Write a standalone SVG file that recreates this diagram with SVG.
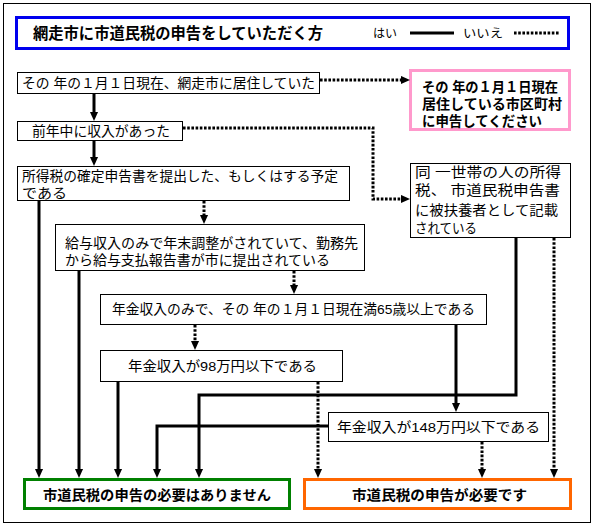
<svg xmlns="http://www.w3.org/2000/svg" width="595" height="527" viewBox="0 0 595 527">
<defs>
<style>
text{font-family:"Liberation Sans","Noto Sans CJK JP",sans-serif;fill:#000}
.t{font-size:13.5px}
.b{font-size:14px;font-weight:bold}
.box{fill:#fff;stroke:#000;stroke-width:1}
.yes{fill:none;stroke:#000;stroke-width:3}
.no{fill:none;stroke:#000;stroke-width:3;stroke-dasharray:2.6 1.6}
</style>
<marker id="ah" viewBox="0 0 10 10" markerWidth="9" markerHeight="9" markerUnits="userSpaceOnUse" refX="2" refY="5" orient="auto">
<path d="M0,0.5 L10,5 L0,9.5 z" fill="#000"/>
</marker>
</defs>
<rect x="0" y="0" width="595" height="527" fill="#fff"/>
<rect x="3.5" y="3.5" width="587" height="519" fill="none" stroke="#000" stroke-width="1"/>

<g id="title">
<rect x="16.5" y="17.5" width="552" height="31" fill="#fff" stroke="#0000ee" stroke-width="3"/>
<text x="33" y="39" style="font-size:15.5px;font-weight:bold" textLength="290" lengthAdjust="spacingAndGlyphs">網走市に市道民税の申告をしていただく方</text>
<text x="373" y="37.5" style="font-size:12px">はい</text>
<path class="yes" d="M410,33 H454"/>
<text x="463" y="37.5" style="font-size:12px" textLength="40" lengthAdjust="spacingAndGlyphs">いいえ</text>
<path class="no" d="M514,33 H560"/>
</g>

<g id="n1">
<rect class="box" x="17.5" y="72.5" width="302" height="21"/>
<text class="t" x="22" y="87.5" textLength="293" lengthAdjust="spacingAndGlyphs">その 年の１月１日現在、網走市に居住していた</text>
</g>
<g id="n2">
<rect class="box" x="17.5" y="121.5" width="165" height="19"/>
<text class="t" x="32" y="135.5" textLength="138" lengthAdjust="spacingAndGlyphs">前年中に収入があった</text>
</g>
<g id="n3">
<rect class="box" x="17.5" y="166.5" width="332" height="34"/>
<text class="t" x="22" y="181" textLength="316" lengthAdjust="spacingAndGlyphs">所得税の確定申告書を提出した、もしくはする予定</text>
<text class="t" x="22" y="198" textLength="45" lengthAdjust="spacingAndGlyphs">である</text>
</g>
<g id="n4">
<rect class="box" x="55.5" y="224.5" width="309" height="46"/>
<text class="t" x="65" y="248" textLength="293" lengthAdjust="spacingAndGlyphs">給与収入のみで年末調整がされていて、勤務先</text>
<text class="t" x="65" y="265" textLength="265" lengthAdjust="spacingAndGlyphs">から給与支払報告書が市に提出されている</text>
</g>
<g id="n5">
<rect class="box" x="100.5" y="294.5" width="386" height="30"/>
<text class="t" x="112" y="314" textLength="363" lengthAdjust="spacingAndGlyphs">年金収入のみで、その 年の１月１日現在満65歳以上である</text>
</g>
<g id="n6">
<rect class="box" x="100.5" y="350.5" width="242" height="31"/>
<text class="t" x="128" y="371" textLength="189" lengthAdjust="spacingAndGlyphs">年金収入が98万円以下である</text>
</g>
<g id="n7">
<rect class="box" x="328.5" y="412.5" width="220" height="29"/>
<text class="t" x="337" y="431.5" textLength="203" lengthAdjust="spacingAndGlyphs">年金収入が148万円以下である</text>
</g>
<g id="n8">
<rect class="box" x="410.5" y="163.5" width="160" height="74"/>
<text class="t" x="415" y="176.5" textLength="146" lengthAdjust="spacingAndGlyphs">同 一世帯の人の所得</text>
<text class="t" x="415" y="195" textLength="145" lengthAdjust="spacingAndGlyphs">税、 市道民税申告書</text>
<text class="t" x="415" y="215" textLength="143" lengthAdjust="spacingAndGlyphs">に被扶養者として記載</text>
<text class="t" x="415" y="233" textLength="62" lengthAdjust="spacingAndGlyphs">されている</text>
</g>
<g id="pink">
<rect x="410.5" y="70.5" width="159" height="59" fill="#fff" stroke="#ff99cc" stroke-width="3"/>
<text class="b" x="422" y="92" textLength="136" lengthAdjust="spacingAndGlyphs">その 年の１月１日現在</text>
<text class="b" x="422" y="109" textLength="140" lengthAdjust="spacingAndGlyphs">居住している市区町村</text>
<text class="b" x="422" y="126" textLength="120" lengthAdjust="spacingAndGlyphs">に申告してください</text>
</g>
<g id="green">
<rect x="24.5" y="479.5" width="265" height="29" fill="#fff" stroke="#008000" stroke-width="3"/>
<text class="b" x="43" y="500" textLength="228" lengthAdjust="spacingAndGlyphs">市道民税の申告の必要はありません</text>
</g>
<g id="orange">
<rect x="304.5" y="479.5" width="266" height="29" fill="#fff" stroke="#ff6600" stroke-width="3"/>
<text class="b" x="352" y="500" textLength="175" lengthAdjust="spacingAndGlyphs">市道民税の申告が必要です</text>
</g>

<g id="connectors">
<path class="yes" d="M94,93 V113.8" marker-end="url(#ah)"/>
<path class="yes" d="M94,141 V158.8" marker-end="url(#ah)"/>
<path class="yes" d="M39,201 V470.8" marker-end="url(#ah)"/>
<path class="yes" d="M79,271 V470.8" marker-end="url(#ah)"/>
<path class="yes" d="M118,382 V470.8" marker-end="url(#ah)"/>
<path class="yes" d="M516,238 V395 H199 V470.8" marker-end="url(#ah)"/>
<path class="yes" d="M328,426 H157 V470.8" marker-end="url(#ah)"/>
<path class="yes" d="M456,325 V404.8" marker-end="url(#ah)"/>
<path class="no" d="M320,80 H402.8" marker-end="url(#ah)"/>
<path class="no" d="M183,128 H373 V199 H402.8" marker-end="url(#ah)"/>
<path class="no" d="M204,201 V216.8" marker-end="url(#ah)"/>
<path class="no" d="M294,271 V286.8" marker-end="url(#ah)"/>
<path class="no" d="M195,325 V342.8" marker-end="url(#ah)"/>
<path class="no" d="M318,382 V470.8" marker-end="url(#ah)"/>
<path class="no" d="M482,442 V470.8" marker-end="url(#ah)"/>
<path class="no" d="M554,238 V470.8" marker-end="url(#ah)"/>
</g>
</svg>
